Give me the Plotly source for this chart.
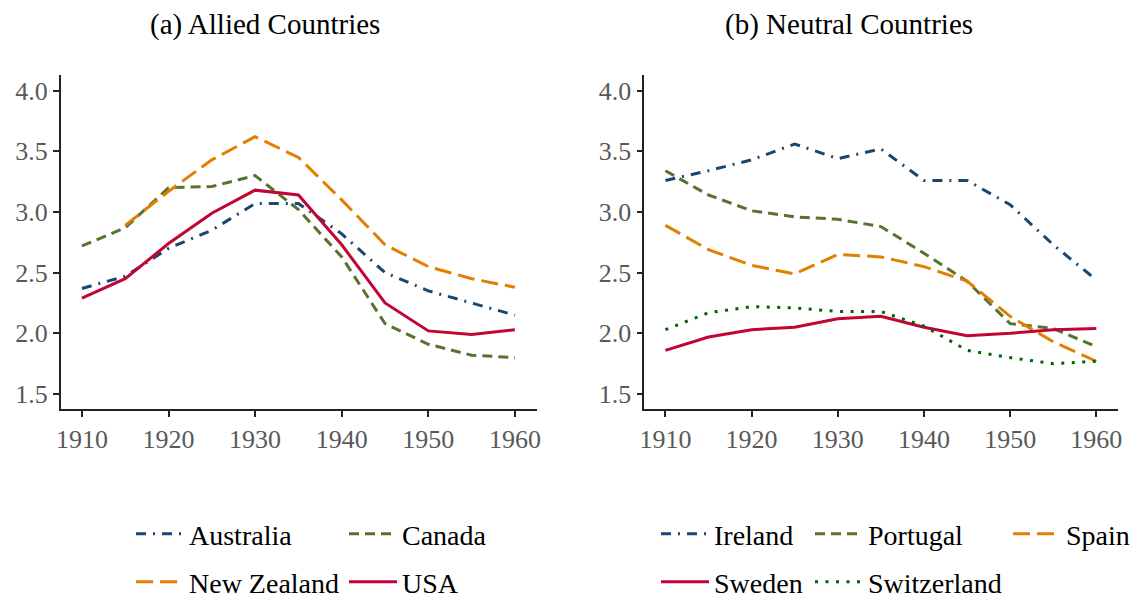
import plotly.graph_objects as go

# decades on the x axis (5-year steps)
years = [1910, 1915, 1920, 1925, 1930, 1935, 1940, 1945, 1950, 1955, 1960]

# (a) allied countries
australia = [2.37, 2.47, 2.70, 2.85, 3.07, 3.07, 2.82, 2.50, 2.35, 2.25, 2.15]
canada = [2.72, 2.87, 3.20, 3.21, 3.30, 3.02, 2.63, 2.08, 1.91, 1.82, 1.80]
new_zealand = [None, 2.89, 3.17, 3.43, 3.62, 3.45, 3.10, 2.73, 2.55, 2.45, 2.38]
usa = [2.29, 2.45, 2.74, 2.99, 3.18, 3.14, 2.73, 2.25, 2.02, 1.99, 2.03]

# (b) neutral countries
ireland = [3.26, 3.34, 3.43, 3.56, 3.44, 3.52, 3.26, 3.26, 3.06, 2.73, 2.44]
portugal = [3.34, 3.14, 3.01, 2.96, 2.94, 2.88, 2.66, 2.43, 2.08, 2.04, 1.89]
spain = [2.89, 2.69, 2.56, 2.49, 2.65, 2.63, 2.55, 2.43, 2.14, 1.93, 1.77]
sweden = [1.86, 1.97, 2.03, 2.05, 2.12, 2.14, 2.05, 1.98, 2.00, 2.03, 2.04]
switzerland = [2.03, 2.17, 2.22, 2.21, 2.18, 2.18, 2.06, 1.86, 1.80, 1.75, 1.77]

y_ticks = [1.5, 2.0, 2.5, 3.0, 3.5, 4.0]
x_ticks = [1910, 1920, 1930, 1940, 1950, 1960]

NAVY = '#1a476f'
GREEN = '#55752f'
ORANGE = '#e37e00'
RED = '#c10534'
DKGREEN = '#006400'

FONT = 'Liberation Serif'
W = 1133
H = 600

DASHDOT = '10px,7px,2px,7px'
SHORTDASH = '10px,6px'
LONGDASH = '17px,7px'
DOTS = '3px,7.5px'


def line(y, name, color, dash, xa, ya, legend, lw):
    return go.Scatter(x=years, y=y, name=name, mode='lines', xaxis=xa, yaxis=ya,
                      line=dict(color=color, dash=dash, width=3),
                      legend=legend, legendwidth=lw)


data = [
    line(australia, 'Australia', NAVY, DASHDOT, 'x', 'y', 'legend', 150),
    line(canada, 'Canada', GREEN, SHORTDASH, 'x', 'y', 'legend', 150),
    line(new_zealand, 'New Zealand', ORANGE, LONGDASH, 'x', 'y', 'legend2', 150),
    line(usa, 'USA', RED, 'solid', 'x', 'y', 'legend2', 150),
    line(ireland, 'Ireland', NAVY, DASHDOT, 'x2', 'y2', 'legend3', 91),
    line(portugal, 'Portugal', GREEN, SHORTDASH, 'x2', 'y2', 'legend3', 135),
    line(spain, 'Spain', ORANGE, LONGDASH, 'x2', 'y2', 'legend3', 60),
    line(sweden, 'Sweden', RED, 'solid', 'x2', 'y2', 'legend4', 91),
    line(switzerland, 'Switzerland', DKGREEN, DOTS, 'x2', 'y2', 'legend4', 150),
]

xaxis_style = dict(range=[1907.55, 1962.55], tickvals=x_ticks, showgrid=False, zeroline=False,
                   showline=True, linecolor='#222222', linewidth=1.5,
                   ticks='outside', ticklen=6, tickwidth=1.5, tickcolor='#222222',
                   tickfont=dict(family=FONT, size=26, color='#595959'),
                   automargin=False)
yaxis_style = dict(range=[1.374, 4.129], tickvals=y_ticks, tickformat='.1f', showgrid=False,
                   zeroline=False, showline=True, linecolor='#222222', linewidth=1.5,
                   ticks='outside', ticklen=6, tickwidth=1.5, tickcolor='#222222',
                   tickfont=dict(family=FONT, size=26, color='#595959'),
                   domain=[1 - 409.3 / H, 1 - 75 / H], automargin=False)


def legend_at(x_px, y_px):
    return dict(orientation='h', x=x_px / W, y=1 - y_px / H, xanchor='left', yanchor='middle',
                font=dict(family=FONT, size=28, color='black'), itemwidth=48,
                entrywidthmode='pixels', bgcolor='rgba(0,0,0,0)', tracegroupgap=0)


layout = go.Layout(
    width=W, height=H, plot_bgcolor='white', paper_bgcolor='white',
    # no margin pushing, so the pixel positions below hold
    margin=dict(l=0, r=0, t=0, b=0, autoexpand=False),
    xaxis=dict(xaxis_style, domain=[60.7 / W, 537 / W], anchor='y'),
    yaxis=dict(yaxis_style, anchor='x'),
    xaxis2=dict(xaxis_style, domain=[644.3 / W, 1118.3 / W], anchor='y2'),
    yaxis2=dict(yaxis_style, anchor='x2'),
    legend=legend_at(131, 534),
    legend2=legend_at(131, 582),
    legend3=legend_at(656, 534),
    legend4=legend_at(656, 582),
    annotations=[
        dict(text='(a) Allied Countries', x=264.5 / W, y=1 - 25 / H, xref='paper', yref='paper',
             showarrow=False, xanchor='center', yanchor='middle',
             font=dict(family=FONT, size=29, color='black')),
        dict(text='(b) Neutral Countries', x=849 / W, y=1 - 25 / H, xref='paper', yref='paper',
             showarrow=False, xanchor='center', yanchor='middle',
             font=dict(family=FONT, size=29, color='black')),
    ],
)

fig = go.Figure(data=data, layout=layout)
# drop the default 8px body margin so the figure sits at the window corner
fig.write_html('out.html', config={'displayModeBar': False},
               post_script="document.body.style.margin = '0px';")
